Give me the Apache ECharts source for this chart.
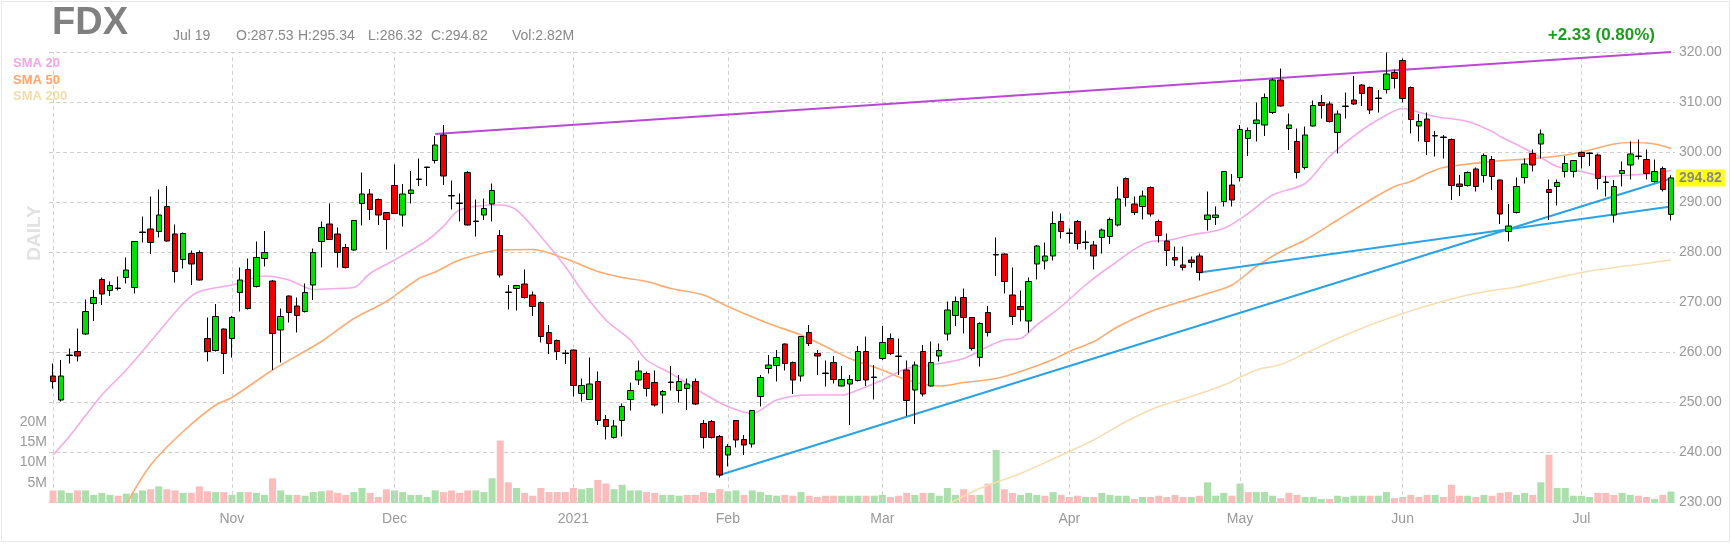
<!DOCTYPE html>
<html>
<head>
<meta charset="utf-8">
<title>FDX daily</title>
<script src="https://cdn.jsdelivr.net/npm/echarts@6/dist/echarts.min.js"></script>
<style>
  html, body { margin: 0; padding: 0; background: #fff; }
  #chart { position: absolute; left: 0; top: 0; width: 1731px; height: 544px; }
  #frame { position: absolute; left: 1px; top: 1px; width: 1727px; height: 539px; border: 1px solid #e9e9e9; pointer-events: none; }
</style>
</head>
<body>
<div id="chart"></div>
<div id="frame"></div>
<script>
var symbol = 'FDX';

// daily candles, [open, close, low, high], Oct 1 2020 .. Jul 19 2021
var ohlc = [
  [255.2,254.1,252.7,257.7],[250.4,255.2,250.1,258.4],[259.3,259.4,257.7,260.7],[260.1,259.2,258.1,264.7],
  [263.6,268.1,263.4,270.5],[269.7,270.9,266.2,272.4],[274.5,271.6,269.4,274.9],[272.3,273.3,271.2,274.1],
  [272.7,272.8,272.3,275.1],[274.9,276.4,273.7,278.9],[272.9,282.1,271.7,282.2],[283.9,284.0,281.9,287.1],
  [284.6,281.9,279.6,291.1],[284.1,287.4,282.9,292.5],[289.1,282.2,282.1,293.2],[283.6,276.1,273.9,285.5],
  [278.5,283.7,276.7,283.9],[279.7,277.6,273.4,280.3],[279.9,274.4,274.3,280.3],[262.7,260.1,258.1,266.9],
  [260.3,267.1,260.1,269.6],[264.6,259.7,255.6,264.7],[262.7,266.9,258.9,267.2],[271.9,274.4,268.1,276.9],
  [276.5,268.7,268.5,278.7],[273.1,278.9,272.9,282.1],[278.7,279.9,277.1,284.2],[274.2,263.7,256.4,274.4],
  [264.4,267.1,257.9,268.7],[271.2,267.9,265.9,271.3],[269.2,267.3,263.9,270.9],[268.1,271.9,267.9,273.7],
  [273.4,279.9,270.4,280.7],[282.1,284.9,276.9,286.1],[285.6,282.5,282.4,289.7],[283.6,279.9,276.9,284.9],
  [280.9,276.9,276.7,281.6],[280.4,286.3,280.3,286.4],[289.7,291.6,285.3,295.9],[291.6,288.5,286.4,292.6],
  [290.5,287.4,285.4,290.7],[287.9,286.5,280.5,288.0],[293.3,287.7,287.6,297.5],[287.4,291.6,285.1,293.6],
  [291.7,292.4,289.7,296.2],[294.5,294.6,293.2,298.7],[296.9,297.0,293.2,297.0],[298.3,301.4,297.7,303.2],
  [303.4,295.2,293.4,305.4],[291.2,291.3,288.5,294.3],[289.7,289.8,286.1,291.7],[295.9,285.4,285.3,296.2],
  [286.1,286.2,283.1,290.5],[287.4,288.7,286.4,290.7],[289.6,292.3,286.1,293.7],[283.3,275.4,274.9,284.4],
  [271.9,272.0,268.5,273.4],[272.7,273.3,268.3,273.4],[273.6,270.9,270.7,276.5],[271.4,269.1,267.2,272.1],
  [269.9,263.1,261.9,270.1],[263.9,261.7,259.6,265.4],[262.3,260.1,258.4,262.5],[259.7,259.8,257.6,260.4],
  [260.4,253.3,251.1,260.5],[251.7,253.3,250.1,254.7],[250.5,253.6,250.4,258.9],[254.1,246.3,245.4,256.1],
  [246.5,245.1,242.5,247.4],[242.9,245.2,242.7,246.4],[246.3,249.1,243.1,249.7],[250.5,252.3,248.3,253.9],
  [254.4,256.2,253.4,258.3],[255.7,252.7,251.1,256.1],[253.9,249.4,249.1,256.3],[251.4,252.1,247.7,252.4],
  [253.9,254.0,252.3,257.2],[252.3,254.1,249.9,255.4],[252.7,253.6,248.4,254.7],[254.1,249.6,249.4,254.7],
  [245.7,242.9,240.7,246.4],[246.1,242.9,242.7,246.4],[243.1,235.4,234.9,243.4],[239.4,241.1,237.1,241.6],
  [246.3,242.4,240.9,246.4],[242.5,241.4,239.4,243.4],[241.6,248.3,240.9,248.4],[251.1,254.9,249.1,255.4],
  [256.7,257.4,255.7,259.4],[257.3,258.9,254.1,260.4],[261.6,257.7,256.3,261.7],[257.9,254.4,251.6,258.1],
  [255.2,263.1,254.1,263.2],[263.9,261.7,261.2,265.4],[259.7,259.2,255.4,260.4],[255.7,255.8,253.1,258.3],
  [257.9,254.5,253.7,259.2],[253.2,254.5,253.1,257.2],[253.6,254.5,245.4,255.4],[254.3,260.1,254.1,261.2],
  [260.1,254.4,253.2,263.1],[254.9,255.0,250.5,257.4],[258.7,261.9,258.4,265.2],[262.7,259.7,259.4,263.7],
  [259.1,259.2,255.4,262.7],[256.4,250.3,247.2,258.3],[252.4,257.4,245.6,258.1],[260.1,251.6,251.1,261.4],
  [253.2,257.9,253.1,262.1],[259.2,260.3,258.1,261.7],[263.6,268.4,262.3,270.1],[267.3,270.1,265.2,271.1],
  [270.9,266.9,263.7,272.7],[266.9,260.7,260.3,267.0],[258.9,265.7,257.1,265.9],[267.9,263.9,263.1,269.2],
  [279.4,279.5,275.2,282.9],[279.6,274.1,271.7,279.7],[271.4,267.1,265.4,276.9],[269.1,268.5,266.1,272.3],
  [266.2,274.1,263.9,274.9],[277.6,281.2,274.5,281.4],[278.2,279.2,276.5,281.9],[279.2,285.7,278.3,288.1],
  [286.1,284.1,282.7,287.7],[283.7,283.8,281.7,284.7],[286.1,281.7,280.5,286.4],[281.9,282.0,280.5,284.3],
  [281.4,279.2,276.5,282.2],[282.9,284.4,279.7,284.7],[283.1,286.5,281.6,286.9],[285.4,290.6,285.1,293.1],
  [294.7,290.9,289.1,294.9],[289.6,287.9,287.4,291.1],[289.1,291.2,286.5,292.3],[292.9,287.6,287.1,293.1],
  [286.1,283.3,281.9,286.5],[282.2,280.3,277.2,283.7],[278.9,278.4,277.2,281.1],[277.4,276.9,276.3,281.1],
  [278.4,277.9,276.9,279.1],[279.2,275.9,274.3,279.7],[286.5,287.4,284.3,292.1],[286.9,287.4,285.4,289.1],
  [290.1,296.1,289.1,296.2],[293.4,290.4,289.1,295.6],[294.9,304.5,294.1,305.4],[302.7,304.3,299.2,304.9],
  [305.7,306.4,302.1,309.9],[305.4,310.9,303.2,311.7],[307.9,314.4,307.6,314.7],[314.4,309.2,309.1,316.7],
  [304.7,305.4,300.4,307.7],[302.1,295.9,294.7,304.7],[296.9,303.4,296.5,305.1],[305.2,309.3,305.1,310.3],
  [309.9,309.3,306.7,311.4],[309.6,306.1,305.9,310.1],[303.9,307.6,299.7,308.3],[309.1,309.2,306.7,311.9],
  [310.4,309.6,309.4,315.2],[313.4,311.7,309.2,313.6],[312.9,308.4,307.6,313.1],[310.7,310.8,307.9,312.4],
  [312.5,315.6,311.7,319.9],[315.9,314.7,312.7,316.5],[318.3,310.7,309.9,318.7],[312.9,306.5,303.7,313.1],
  [305.2,306.1,302.1,307.6],[306.6,302.1,299.4,307.9],[303.2,303.3,299.1,304.2],[302.9,303.0,298.7,303.4],
  [302.5,293.3,290.4,302.7],[293.6,293.1,291.2,295.4],[293.3,295.9,293.1,296.1],[296.6,293.1,292.1,296.9],
  [295.3,299.3,293.9,299.7],[298.5,295.1,292.4,299.2],[294.4,287.6,285.6,294.5],[284.1,285.2,282.1,289.6],
  [287.9,293.1,287.7,294.9],[294.9,297.6,293.7,298.7],[299.7,297.4,296.1,300.5],[301.6,303.6,298.7,304.5],
  [292.5,291.9,286.4,294.5],[293.1,293.9,289.3,294.5],[296.1,297.7,294.9,299.2],[296.1,298.3,294.9,298.4],
  [299.9,299.1,296.7,300.1],[299.7,299.8,297.2,299.9],[299.4,294.7,292.5,299.7],[293.9,294.0,291.1,295.2],
  [287.4,293.1,285.9,294.4],[295.7,296.3,293.1,298.1],[297.4,299.6,294.5,302.1],[299.1,299.2,298.5,302.5],
  [298.5,295.7,294.5,300.5],[294.1,296.1,293.9,298.5],[296.7,292.49,292.1,297.1],[287.53,294.82,286.32,295.34]
];

// volume, millions of shares
var volumes = [
  3.1,3.1,2.5,3.1,3.1,2.0,2.5,2.0,1.8,2.3,2.5,3.1,3.4,4.1,3.4,3.1,2.5,2.5,4.1,2.9,2.7,2.7,
  2.0,2.7,2.7,2.5,2.0,6.1,3.1,2.0,2.0,1.8,2.7,2.9,3.1,2.5,2.0,2.7,3.7,2.5,1.5,3.4,3.1,2.7,2.0,2.0,1.5,3.1,
  2.7,3.1,2.5,3.1,3.1,2.7,6.1,15.4,5.1,3.7,2.5,1.8,3.7,2.7,2.7,2.7,3.7,3.4,3.7,5.7,4.8,3.4,4.5,3.1,3.1,2.7,
  2.5,2.0,2.0,1.8,2.0,2.0,2.7,2.5,3.4,2.9,3.1,2.0,3.1,2.7,2.0,1.8,2.0,1.8,2.7,1.8,1.5,1.8,1.8,1.8,1.8,1.8,
  1.8,1.8,2.0,1.5,1.8,2.5,2.0,2.5,2.5,1.8,3.7,2.0,3.4,2.0,2.0,4.8,13.1,3.4,2.5,2.0,2.5,2.0,1.8,2.7,2.0,1.5,
  1.8,1.5,1.5,2.5,2.0,1.8,1.8,1.0,1.5,1.5,1.8,1.5,2.0,1.5,1.5,1.8,5.1,1.8,2.5,1.8,4.8,2.7,2.7,2.7,1.8,
  1.2,2.5,2.0,1.5,1.5,1.0,1.0,1.8,1.5,1.8,1.8,1.8,1.8,2.7,1.2,1.5,2.0,1.5,2.0,2.0,1.5,4.5,1.8,1.8,1.5,2.0,1.8,
  2.5,2.7,2.0,2.5,2.0,5.1,11.9,3.7,3.7,1.8,1.8,1.5,2.5,2.5,2.0,2.5,2.0,1.8,1.5,1.0,2.0,2.82
];

// moving averages: [candle index, value]
var sma20 = [
  [0,239.4],[2,243.1],[6,251.4],[9,256.4],[12,262.1],[16,269.7],[18,272.1],[22,273.4],[26,275.2],[29,274.4],
  [32,272.5],[35,272.7],[37,272.9],[39,275.7],[42,278.4],[46,282.3],[48,285.1],[50,288.4],[55,289.4],[57,288.4],
  [60,283.1],[63,277.1],[65,272.4],[68,266.4],[71,262.4],[73,258.4],[76,255.7],[80,251.7],[83,249.1],[86,247.7],
  [89,250.4],[93,251.4],[97,251.4],[99,252.4],[102,254.4],[105,256.7],[108,257.4],[112,258.7],[115,261.1],[117,262.4],
  [119,262.7],[121,265.4],[124,269.1],[127,273.4],[130,277.1],[135,282.1],[137,282.3],[140,283.4],[144,284.7],[147,287.7],
  [150,291.4],[154,293.7],[157,299.1],[161,304.4],[164,307.4],[166,308.7],[167,308.4],[170,307.1],[174,306.1],[177,304.1],
  [178,303.1],[181,300.7],[183,298.9],[185,297.1],[188,296.1],[191,295.1],[194,295.4],[197,295.7],[199,296.3]
];
var sma50 = [
  [9,229.5],[12,237.4],[16,244.1],[20,249.4],[22,250.9],[27,256.4],[33,262.1],[37,266.7],[41,270.1],[45,274.7],
  [47,276.0],[50,278.4],[55,280.4],[59,280.5],[63,278.7],[67,276.1],[70,274.9],[73,274.1],[76,272.7],[80,271.4],
  [83,269.1],[88,265.7],[92,263.4],[95,261.1],[98,258.7],[102,256.4],[105,254.4],[109,253.2],[112,253.9],[116,254.7],
  [119,256.1],[123,258.5],[125,260.1],[128,262.1],[131,265.1],[135,268.1],[138,269.7],[142,271.7],[145,273.4],[148,277.1],
  [151,280.1],[154,282.4],[158,286.4],[162,290.4],[165,293.1],[167,294.1],[169,295.7],[171,296.9],[177,298.1],[182,298.7],
  [186,299.4],[189,300.4],[192,301.6],[194,301.9],[197,301.6],[199,300.7]
];
var sma200 = [
  [110,229.5],[114,232.7],[119,235.7],[123,238.6],[125,240.1],[128,242.4],[132,246.1],[136,249.1],[140,251.1],[144,253.4],
  [148,256.4],[151,257.5],[154,259.7],[158,262.7],[162,265.4],[166,267.7],[170,269.7],[174,271.4],[177,272.3],[180,273.0],
  [184,274.5],[188,275.9],[192,276.9],[195,277.5],[199,278.4]
];

// hand drawn trend lines: [candle index, price] at both ends
var resistanceLine = [[47, 303.6], [199, 320.0]];
var supportLineLong = [[82, 235.4], [199, 294.7]];
var supportLineShort = [[141, 275.9], [199, 289.1]];

var priceTicks = [230, 240, 250, 260, 270, 280, 290, 300, 310, 320];
var volumeTicks = [5, 10, 15, 20];
var monthNames = ['Jan','Feb','Mar','Apr','May','Jun','Jul','Aug','Sep','Oct','Nov','Dec'];
var holidays = ['2020-11-26','2020-12-25','2021-01-01','2021-01-18','2021-02-15','2021-04-02','2021-05-31','2021-07-05'];

function tradingDays(start, count) {
  var out = [];
  var d = new Date(start + 'T12:00:00Z');
  while (out.length < count) {
    var s = d.toISOString().slice(0, 10);
    var wd = d.getUTCDay();
    if (wd !== 0 && wd !== 6 && holidays.indexOf(s) < 0) out.push(s);
    d.setUTCDate(d.getUTCDate() + 1);
  }
  return out;
}

var dates = tradingDays('2020-10-01', ohlc.length);
var monthStart = dates.map(function (d, i) {
  return i === 0 || d.slice(5, 7) !== dates[i - 1].slice(5, 7);
});

function pairs(list) {
  return list.map(function (p) { return [dates[p[0]], p[1]]; });
}
function segment(line, color) {
  return [
    { coord: [dates[line[0][0]], line[0][1]], lineStyle: { color: color, width: 2, type: 'solid' } },
    { coord: [dates[line[1][0]], line[1][1]] }
  ];
}

var last = ohlc[ohlc.length - 1];
var prevClose = ohlc[ohlc.length - 2][1];
var change = last[1] - prevClose;
var lastDate = new Date(dates[dates.length - 1] + 'T12:00:00Z');

var volumeBars = volumes.map(function (v, i) {
  var ref = i === 0 ? ohlc[i][0] : ohlc[i - 1][1];
  return { value: v * 1e6, itemStyle: { color: ohlc[i][1] >= ref ? '#abdfab' : '#fbbcbc' } };
});

var monthLines = [];
monthStart.forEach(function (m, i) { if (m) monthLines.push({ xAxis: dates[i] }); });

var font = 'Liberation Sans, Arial, sans-serif';
var gridDash = { color: '#cfcfcf', type: [4, 3], width: 1 };

var chart = echarts.init(document.getElementById('chart'));
var option = {
  animation: false,
  backgroundColor: '#fff',
  textStyle: { fontFamily: font },
  grid: [
    { left: 49, right: 56, top: 52, height: 450 },
    { left: 49, right: 56, bottom: 41, height: 81 }
  ],
  xAxis: [
    {
      type: 'category', data: dates, gridIndex: 0, boundaryGap: true,
      axisLine: { show: false }, axisTick: { show: false }, splitLine: { show: false },
      axisLabel: {
        color: '#999', fontSize: 14, margin: 10,
        interval: function (i) { return monthStart[i] && i > 0; },
        formatter: function (v) {
          var m = parseInt(v.slice(5, 7), 10) - 1;
          return m === 0 ? v.slice(0, 4) : monthNames[m];
        }
      }
    },
    {
      type: 'category', data: dates, gridIndex: 1, boundaryGap: true,
      axisLine: { show: false }, axisTick: { show: false }, axisLabel: { show: false }, splitLine: { show: false }
    }
  ],
  yAxis: [
    {
      type: 'value', gridIndex: 0, position: 'right',
      min: priceTicks[0], max: priceTicks[priceTicks.length - 1], interval: 10,
      axisLine: { show: false }, axisTick: { show: false },
      axisLabel: { color: '#999', fontSize: 14, margin: 4, formatter: function (v) { return v.toFixed(2); } },
      splitLine: { lineStyle: gridDash }
    },
    {
      type: 'value', gridIndex: 1, position: 'left',
      min: 0, max: volumeTicks[volumeTicks.length - 1] * 1e6, interval: 5e6,
      axisLine: { show: false }, axisTick: { show: false }, splitLine: { show: false },
      axisLabel: {
        color: '#999', fontSize: 14, margin: 2, showMaxLabel: true,
        formatter: function (v) { return v === 0 ? '' : (v / 1e6) + 'M'; }
      }
    }
  ],
  series: [
    {
      // month gridlines
      type: 'line', data: [], xAxisIndex: 0, yAxisIndex: 0, z: 1, silent: true,
      markLine: {
        silent: true, symbol: 'none', label: { show: false },
        lineStyle: { color: '#d2d2d2', type: [4, 3], width: 1 },
        data: monthLines
      }
    },
    {
      type: 'bar', data: volumeBars, xAxisIndex: 1, yAxisIndex: 1, barWidth: 7, z: 2, silent: true
    },
    {
      name: 'SMA 200', type: 'line', data: pairs(sma200), smooth: 0.3, showSymbol: false, z: 3,
      lineStyle: { color: '#f5dfb2', width: 1.6 }
    },
    {
      name: 'SMA 50', type: 'line', data: pairs(sma50), smooth: 0.3, showSymbol: false, z: 3,
      lineStyle: { color: '#ffab70', width: 1.6 }
    },
    {
      name: 'SMA 20', type: 'line', data: pairs(sma20), smooth: 0.3, showSymbol: false, z: 3,
      lineStyle: { color: '#f3abea', width: 1.6 }
    },
    {
      name: symbol, type: 'candlestick', data: ohlc, barWidth: 6, z: 5,
      itemStyle: {
        color: '#00e000', color0: '#ee0000',
        borderColor: '#000', borderColor0: '#000', borderWidth: 1
      },
      markLine: {
        silent: true, symbol: 'none', label: { show: false },
        data: [
          segment(resistanceLine, '#bb48d4'),
          segment(supportLineLong, '#2aa3e4'),
          segment(supportLineShort, '#2aa3e4')
        ]
      }
    },
    {
      // last close tag on the price axis
      type: 'line', data: [], xAxisIndex: 0, yAxisIndex: 0, z: 6, silent: true,
      markLine: {
        silent: true, symbol: 'none',
        lineStyle: { color: 'rgba(0,0,0,0)', width: 0 },
        label: {
          show: true, position: 'end', distance: 1, formatter: last[1].toFixed(2),
          backgroundColor: '#ffff1a', color: '#888', fontWeight: 'bold', fontSize: 14,
          padding: [2, 3, 1, 3]
        },
        data: [{ yAxis: last[1] }]
      }
    }
  ],
  graphic: [
    { type: 'text', left: 52, top: 5, style: { text: symbol, font: 'bold 38px ' + font, fill: '#808080' } },
    { type: 'text', x: 173, y: 36, style: { text: monthNames[lastDate.getUTCMonth()] + ' ' + lastDate.getUTCDate(), font: '14px ' + font, fill: '#888', verticalAlign: 'middle' } },
    { type: 'text', x: 236, y: 36, style: { text: 'O:' + last[0].toFixed(2), font: '14px ' + font, fill: '#888', verticalAlign: 'middle' } },
    { type: 'text', x: 298, y: 36, style: { text: 'H:' + last[3].toFixed(2), font: '14px ' + font, fill: '#888', verticalAlign: 'middle' } },
    { type: 'text', x: 368, y: 36, style: { text: 'L:' + last[2].toFixed(2), font: '14px ' + font, fill: '#888', verticalAlign: 'middle' } },
    { type: 'text', x: 431, y: 36, style: { text: 'C:' + last[1].toFixed(2), font: '14px ' + font, fill: '#888', verticalAlign: 'middle' } },
    { type: 'text', x: 512, y: 36, style: { text: 'Vol:' + volumes[volumes.length - 1].toFixed(2) + 'M', font: '14px ' + font, fill: '#888', verticalAlign: 'middle' } },
    {
      type: 'text', x: 1655, y: 35,
      style: {
        text: (change >= 0 ? '+' : '') + change.toFixed(2) + ' (' + (change / prevClose * 100).toFixed(2) + '%)',
        font: 'bold 17px ' + font, fill: '#1c9e1c', align: 'right', verticalAlign: 'middle'
      }
    },
    { type: 'text', x: 13, y: 63, style: { text: 'SMA 20', font: 'bold 13px ' + font, fill: '#f3a6e8', verticalAlign: 'middle' } },
    { type: 'text', x: 13, y: 80, style: { text: 'SMA 50', font: 'bold 13px ' + font, fill: '#ffa56a', verticalAlign: 'middle' } },
    { type: 'text', x: 13, y: 96, style: { text: 'SMA 200', font: 'bold 13px ' + font, fill: '#f2dca8', verticalAlign: 'middle' } },
    {
      type: 'text', x: 35, y: 233, rotation: Math.PI / 2,
      style: { text: 'DAILY', font: 'bold 19px ' + font, fill: '#e2e2e2', align: 'center', verticalAlign: 'middle' }
    }
  ]
};
chart.setOption(option);
</script>
</body>
</html>
